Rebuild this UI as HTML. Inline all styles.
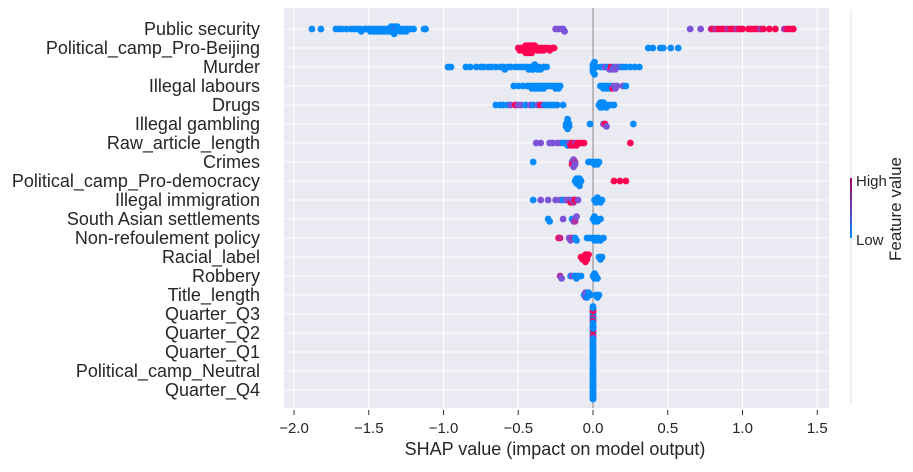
<!DOCTYPE html>
<html><head><meta charset="utf-8">
<style>
body{margin:0;background:#fff;width:913px;height:467px;overflow:hidden;font-family:"Liberation Sans",sans-serif}
svg text{font-family:"Liberation Sans",sans-serif;fill:#262626}
</style></head><body>
<svg id="chart" width="913" height="467" viewBox="0 0 913 467">
<defs><linearGradient id="cb" x1="0" y1="1" x2="0" y2="0">
<stop offset="0" stop-color="#008afb"/><stop offset="0.5" stop-color="#6a3fb0"/><stop offset="1" stop-color="#a0005a"/></linearGradient></defs>
<rect x="284" y="8" width="545" height="400" fill="#eaeaf2"/>
<g id="grid"></g>
<g id="labels"></g>
<line id="zl" y1="8" y2="408" stroke="#888" stroke-width="1"/>
<g id="dots"></g>
<g id="ticks"></g>
<text x="555" y="455" font-size="18" text-anchor="middle">SHAP value (impact on model output)</text>
<line x1="851" y1="10" x2="851" y2="405" stroke="#e0e0e0" stroke-width="1"/>
<rect x="850" y="178" width="2" height="60" fill="url(#cb)"/>
<text x="856" y="186" font-size="15">High</text>
<text x="856" y="245" font-size="15">Low</text>
<text transform="translate(901,209) rotate(-90)" font-size="17" text-anchor="middle">Feature value</text>
</svg>
<script>
const features=["Public security","Political_camp_Pro-Beijing","Murder","Illegal labours","Drugs","Illegal gambling","Raw_article_length","Crimes","Political_camp_Pro-democracy","Illegal immigration","South Asian settlements","Non-refoulement policy","Racial_label","Robbery","Title_length","Quarter_Q3","Quarter_Q2","Quarter_Q1","Political_camp_Neutral","Quarter_Q4"];
const xTicks=[-2.0,-1.5,-1.0,-0.5,0.0,0.5,1.0,1.5];
// per-row SHAP values and matching feature values (0=low,1=high)
const shapValues=[
[-1.88,-1.82,-1.72,-1.7,-1.68,-1.65,-1.62,-1.6,-1.58,-1.56,-1.55,-1.53,-1.52,-1.5,-1.49,-1.48,-1.47,-1.46,-1.45,-1.44,-1.43,-1.42,-1.41,-1.4,-1.39,-1.38,-1.37,-1.36,-1.35,-1.35,-1.34,-1.34,-1.33,-1.33,-1.32,-1.32,-1.31,-1.3,-1.29,-1.28,-1.27,-1.26,-1.25,-1.24,-1.22,-1.2,-1.13,-1.12,-0.25,-0.23,-0.21,-0.2,-0.19,0.65,0.72,0.79,0.8,0.82,0.84,0.86,0.88,0.9,0.92,0.94,0.96,0.98,1.0,1.04,1.06,1.08,1.1,1.12,1.14,1.18,1.22,1.28,1.3,1.32,1.34],
[-0.5,-0.49,-0.48,-0.47,-0.46,-0.46,-0.45,-0.45,-0.44,-0.44,-0.43,-0.43,-0.42,-0.42,-0.41,-0.41,-0.4,-0.4,-0.39,-0.38,-0.37,-0.36,-0.35,-0.34,-0.33,-0.32,-0.3,-0.29,-0.27,-0.26,0.37,0.4,0.45,0.47,0.52,0.57],
[-0.97,-0.95,-0.85,-0.82,-0.78,-0.75,-0.73,-0.7,-0.68,-0.65,-0.62,-0.6,-0.59,-0.57,-0.55,-0.52,-0.5,-0.48,-0.46,-0.44,-0.43,-0.42,-0.41,-0.4,-0.4,-0.39,-0.38,-0.37,-0.36,-0.35,-0.33,-0.31,0.0,0.0,0.0,0.0,0.01,0.01,0.02,0.05,0.07,0.08,0.1,0.11,0.12,0.13,0.14,0.15,0.16,0.18,0.2,0.22,0.25,0.28,0.31],
[-0.53,-0.5,-0.47,-0.44,-0.42,-0.41,-0.4,-0.39,-0.38,-0.37,-0.36,-0.35,-0.34,-0.33,-0.32,-0.3,-0.28,-0.26,-0.25,-0.24,-0.23,-0.22,0.05,0.06,0.07,0.08,0.09,0.1,0.11,0.12,0.13,0.14,0.15,0.16,0.2,0.22],
[-0.65,-0.62,-0.6,-0.57,-0.55,-0.52,-0.5,-0.48,-0.45,-0.42,-0.4,-0.37,-0.35,-0.33,-0.32,-0.3,-0.28,-0.26,-0.24,-0.2,0.04,0.05,0.05,0.06,0.06,0.07,0.08,0.09,0.1,0.12,0.14],
[-0.18,-0.18,-0.17,-0.17,-0.17,-0.16,-0.16,-0.02,0.07,0.08,0.09,0.27],
[-0.38,-0.35,-0.29,-0.27,-0.24,-0.22,-0.2,-0.18,-0.17,-0.16,-0.15,-0.14,-0.13,-0.12,-0.11,-0.1,-0.08,-0.06,0.25],
[-0.4,-0.14,-0.14,-0.13,-0.13,-0.12,-0.12,-0.03,-0.01,0.0,0.01,0.02,0.03,0.04],
[-0.12,-0.11,-0.11,-0.1,-0.1,-0.09,-0.09,-0.08,0.14,0.18,0.22],
[-0.4,-0.35,-0.3,-0.25,-0.22,-0.2,-0.18,-0.16,-0.15,-0.14,-0.13,-0.12,-0.1,0.01,0.02,0.02,0.03,0.04,0.05,0.06],
[-0.3,-0.29,-0.2,-0.14,-0.13,-0.12,-0.12,-0.11,0.0,0.01,0.01,0.02,0.03,0.05],
[-0.23,-0.22,-0.16,-0.15,-0.14,-0.12,-0.11,-0.04,-0.02,0.0,0.01,0.02,0.03,0.04,0.05,0.07],
[-0.08,-0.07,-0.06,-0.06,-0.05,-0.05,-0.04,-0.04,-0.03,0.04,0.05,0.06],
[-0.22,-0.21,-0.15,-0.14,-0.12,-0.11,-0.1,-0.08,0.0,0.01,0.01,0.02,0.03],
[-0.06,-0.05,-0.05,-0.04,-0.04,-0.03,-0.02,0.02,0.03,0.04],
[0,0,0,0,0,0,0,0,0,0,0,0],
[0,0,0,0,0,0,0,0,0,0,0,0],
[0,0,0,0,0,0,0,0,0,0,0,0],
[0,0,0,0,0,0,0,0,0,0,0,0],
[0,0,0,0,0,0,0,0,0,0,0,0]
];
const featureValues=[
[0,0,0,0,0,0,0,0,0,0,0,0,0,0,0,0,0,0,0,0,0,0,0,0,0,0,0,0,0,0,0,0,0,0,0.5,0,0,0,0,0,0,0,0,0,0,0,0,0,0.5,0.5,0.5,0.5,0.5,0.5,0.5,0.7,1,0.7,1,1,1,0.7,1,1,0.7,1,1,1,1,1,1,0.7,1,1,1,0.7,1,1,1],
[1,1,1,1,1,1,1,1,1,1,1,1,1,1,1,1,1,1,1,1,1,1,1,1,1,1,1,1,1,1,0,0,0,0,0,0],
[0,0,0,0,0,0,0,0,0,0,0,0,0,0,0,0,0,0,0,0,0,0,0,0,0,0,0,0,0,0,0,0,0,0,0,0,0,0,0,0,0,0.5,0,0.5,1,0.5,0.3,0.5,0.5,0.3,0,0,0,0,0],
[0,0,0,0,0,0,0,0,0,0,0,0,0,0,0,0,0,0,0,0,0,0,0,0,0,0,0,0,0,0,1,0.5,0.5,0.5,0.5,0],
[0,0,0,0,0.5,1,0.5,0.5,0,0.5,0,0.5,1,0.5,0,0,0,0,0,0,0,0,0,0,0,0,0,0,0,0,0],
[0,0,0,0,0,0,0,0,0.5,1,0.5,0],
[0.5,0.5,0.5,0.5,0.5,0.5,0,0,0,0.5,1,1,1,0.7,1,1,1,1,1],
[0,0.5,1,0.5,0.5,0.7,0.5,0,0,0,0,0,0,0],
[0,0,0,0,0,0,0,0,1,1,1],
[0,0.5,0.5,0.5,0.5,0,0.5,0.5,1,0.5,0.7,1,0.5,0,0,0,0,0,0,0],
[0,0,0.5,0,0.5,0.5,0.7,0.5,0,0,0,0,0,0],
[1,0.8,0.5,0.5,0.7,0,0,0,0,0,0,0,0,0,0,0],
[1,1,1,1,1,1,1,1,1,0,0,0],
[0.7,0.5,0,0.5,0,0,0,0,0,0,0,0,0],
[0,0.5,0.5,0.5,0,0,0,0,0,0],
[0,0,0,0,1,1,1,0,0,1,0,0],
[0,0,0,1,1,0.6,0,0,0,0,0,0],
[0,0,0,0,0,0,0,0,0,0,0,0],
[0,0,0,0,0,0,0,0,0,0,0,0],
[0,0,0,0,0,0,0,0,0,0,0,0]
];
const NS="http://www.w3.org/2000/svg";
const X0=593,XS=149.5,Y0=29,YS=19;
function xScale(v){return X0+v*XS;}
function yScale(i){return Y0+i*YS;}
function colorOf(f){
  const a=[0,138,251],m=[124,82,216],b=[255,0,82];
  let c;if(f<=0.5){const t=f/0.5;c=a.map((x,k)=>Math.round(x+(m[k]-x)*t));}
  else{const t=(f-0.5)/0.5;c=m.map((x,k)=>Math.round(x+(b[k]-x)*t));}
  return "rgb("+c.join(",")+")";
}
const grid=document.getElementById('grid'),labels=document.getElementById('labels'),ticks=document.getElementById('ticks'),dots=document.getElementById('dots');
document.getElementById('zl').setAttribute('x1',xScale(0));
document.getElementById('zl').setAttribute('x2',xScale(0));
xTicks.forEach(t=>{
  const l=document.createElementNS(NS,'line');
  
  
  l.setAttribute('x1',xScale(t));l.setAttribute('x2',xScale(t));l.setAttribute('y1',8);l.setAttribute('y2',408);
  l.setAttribute('stroke','#fff');l.setAttribute('stroke-width','1');grid.appendChild(l);
  const tk=document.createElementNS(NS,'line');
  
  
  tk.setAttribute('x1',xScale(t));tk.setAttribute('x2',xScale(t));tk.setAttribute('y1',410);tk.setAttribute('y2',415);
  tk.setAttribute('stroke','#333');ticks.appendChild(tk);
  const tx=document.createElementNS(NS,'text');
  
  
  tx.setAttribute('x',xScale(t));tx.setAttribute('y',433);tx.setAttribute('font-size','15');tx.setAttribute('text-anchor','middle');
  tx.textContent=(t<0?"\u2212":"")+Math.abs(t).toFixed(1);ticks.appendChild(tx);
});
features.forEach((f,i)=>{
  const y=yScale(i);
  const l=document.createElementNS(NS,'line');
  
  
  l.setAttribute('x1',284);l.setAttribute('x2',829);l.setAttribute('y1',y);l.setAttribute('y2',y);
  l.setAttribute('stroke','#fff');l.setAttribute('stroke-width','1');grid.appendChild(l);
  const t=document.createElementNS(NS,'text');
  
  
  t.setAttribute('x',260);t.setAttribute('y',y+6);t.setAttribute('font-size','18');t.setAttribute('text-anchor','end');
  t.textContent=f;labels.appendChild(t);
  const vals=shapValues[i],fv=featureValues[i];
  const bins={};
  vals.forEach((v,k)=>{const b=Math.round(xScale(v)/3);(bins[b]=bins[b]||[]).push(k);});
  Object.values(bins).forEach(ks=>{
    const n=ks.length,step=Math.min(2.4,9/Math.max(1,Math.ceil((n-1)/2)));
    ks.forEach((k,j)=>{
      const off=(j%2?1:-1)*Math.ceil(j/2)*step;
      const c=document.createElementNS(NS,'circle');
      
      
      c.setAttribute('cx',xScale(vals[k]));c.setAttribute('cy',y+off);c.setAttribute('r',3.4);
      c.setAttribute('fill',colorOf(fv[k]));
      dots.appendChild(c);
    });
  });
});
</script>
</body></html>
